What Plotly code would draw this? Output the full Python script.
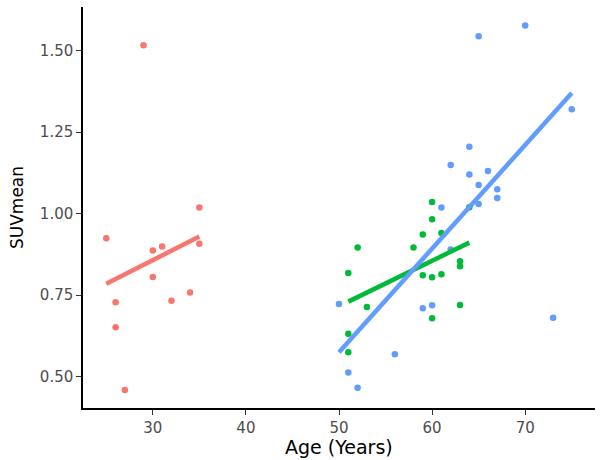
import numpy as np
import plotly.graph_objects as go

# Group 1 (red)
red_age = [25, 29, 35, 30, 31, 35, 30, 34, 32, 26, 26, 27]
red_suv = [0.925, 1.517, 1.019, 0.887, 0.899, 0.908, 0.806, 0.758, 0.733, 0.728, 0.652, 0.459]

# Group 2 (green)
green_age = [60, 60, 59, 52, 58, 51, 59, 60, 53, 60, 51, 51, 61, 64, 63, 63, 61, 63]
green_suv = [1.036, 0.983, 0.936, 0.896, 0.896, 0.818, 0.811, 0.805, 0.714, 0.679, 0.632, 0.575,
             0.941, 1.020, 0.854, 0.839, 0.814, 0.720]

# Group 3 (blue)
blue_age = [50, 59, 60, 56, 51, 52, 64, 66, 65, 67, 67, 65, 61, 62, 73, 65, 70, 75, 64, 62]
blue_suv = [0.723, 0.710, 0.719, 0.569, 0.513, 0.466, 1.120, 1.131, 1.088, 1.075, 1.048, 1.030,
            1.019, 0.890, 0.681, 1.544, 1.577, 1.320, 1.205, 1.149]

x_ticks = [30, 40, 50, 60, 70]
y_ticks = [0.50, 0.75, 1.00, 1.25, 1.50]
y_ticklabels = ["0.50", "0.75", "1.00", "1.25", "1.50"]

groups = [
    (red_age, red_suv, "#F8766D"),
    (green_age, green_suv, "#00BA38"),
    (blue_age, blue_suv, "#619CFF"),
]

fig = go.Figure()
for ages, suvs, col in groups:
    fig.add_trace(go.Scatter(x=ages, y=suvs, mode="markers",
                             marker=dict(color=col, size=6.5, line=dict(width=0)),
                             showlegend=False, hoverinfo="x+y"))
for ages, suvs, col in groups:
    a = np.array(ages, dtype=float)
    s = np.array(suvs, dtype=float)
    slope, icpt = np.polyfit(a, s, 1)
    xs = np.array([a.min(), a.max()])
    fig.add_trace(go.Scatter(x=xs, y=slope * xs + icpt, mode="lines",
                             line=dict(color=col, width=4.5),
                             showlegend=False, hoverinfo="skip"))

fig.update_layout(
    width=600, height=460,
    margin=dict(l=83, r=5, t=7, b=52),
    paper_bgcolor="white", plot_bgcolor="white",
    font=dict(family="DejaVu Sans, Arial, sans-serif"),
    xaxis=dict(range=[22.5, 77.5], tickvals=x_ticks, showgrid=False, zeroline=False,
               automargin=False,
               showline=True, linecolor="black", linewidth=1.5,
               ticks="outside", ticklen=5, tickcolor="#333333", tickwidth=1,
               tickfont=dict(size=15, color="#4D4D4D")),
    yaxis=dict(range=[0.404, 1.634], tickvals=y_ticks, ticktext=y_ticklabels,
               showgrid=False, zeroline=False, automargin=False,
               showline=True, linecolor="black", linewidth=1.5,
               ticks="outside", ticklen=5, tickcolor="#333333", tickwidth=1,
               tickfont=dict(size=15, color="#4D4D4D"),
               title=dict(text="SUVmean", font=dict(size=17, color="black"), standoff=12)),
    annotations=[dict(text="Age (Years)", xref="paper", yref="paper", x=0.5, y=-0.097,
                      xanchor="center", yanchor="middle", showarrow=False,
                      font=dict(size=19, color="black"))],
)

fig.write_html("out.html", config={"displayModeBar": False},
               post_script="document.body.style.margin='0';document.body.style.overflow='hidden';")
